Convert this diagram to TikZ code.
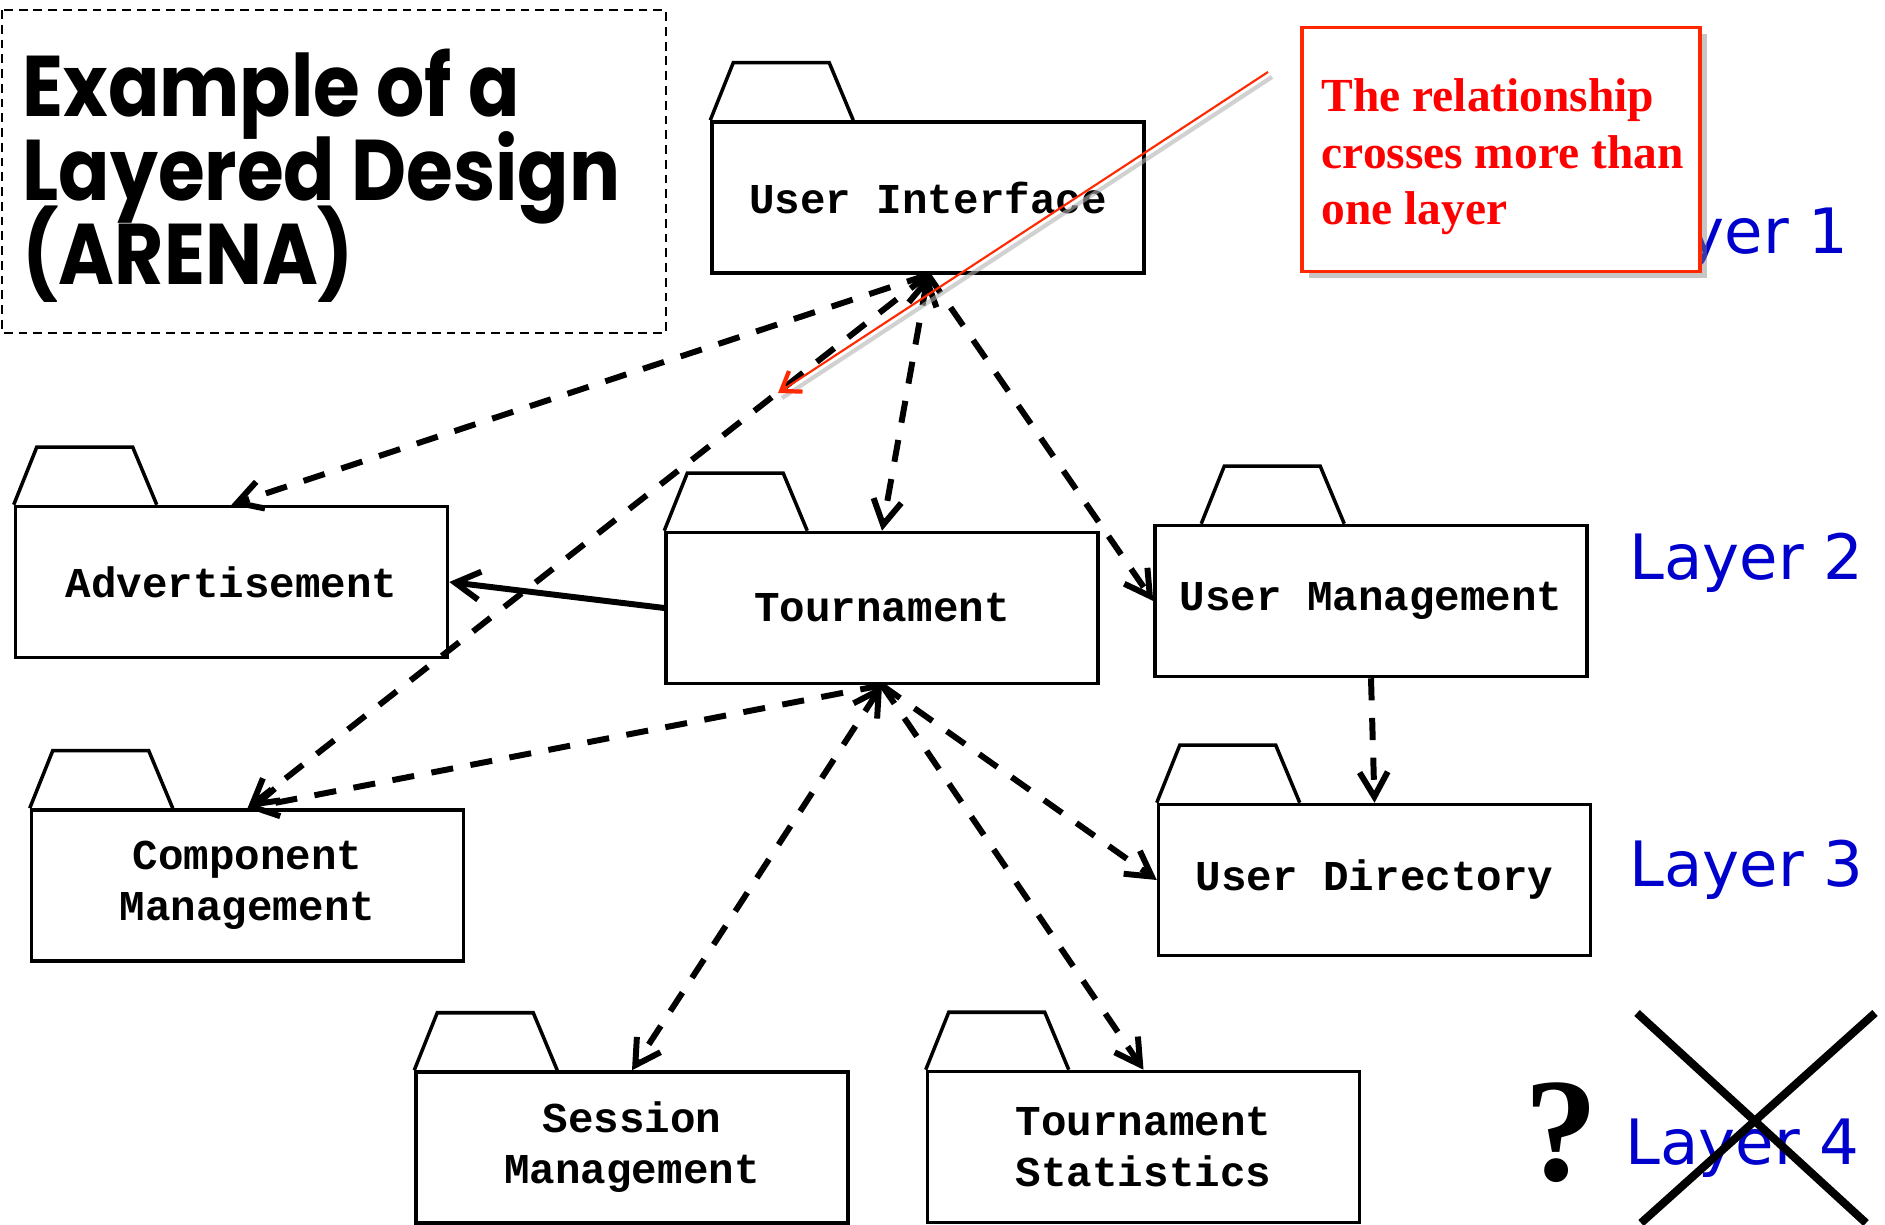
\documentclass[tikz,border=0pt]{standalone}
\usepackage{fontspec}
\usetikzlibrary{calc,arrows.meta,shadows}
\newfontfamily\pkgfont{Liberation Mono}
\newfontfamily\titlefont{Poppins}[FakeStretch=0.88]
\newfontfamily\notefont{Liberation Serif}
\newfontfamily\layerfont{DejaVu Sans}
\definecolor{layerblue}{RGB}{0,0,204}
\definecolor{notered}{RGB}{255,40,0}
\def\tightlines{\lineskiplimit=-30pt\relax}
\tikzset{
	>={Straight Barb[length=7pt,width=8pt]},
	pkg/.style={draw, line width=1pt, minimum width=4.32cm, minimum height=1.51cm, inner sep=0pt, align=center, font=\pkgfont\bfseries\fontsize{12.1}{14.5}\selectfont},
	pkgline/.style={line width=1pt},
	dep/.style={line width=1.7pt, dash pattern=on 6.3pt off 5pt, ->},
	layer/.style={anchor=base west, inner sep=0pt, text=layerblue, font=\layerfont\fontsize{17.8}{20}\selectfont}
}
\def\pkgtab[#1](#2){\draw[pkgline] ($(#2.north west)+(#1,0)$) -- ++(0.23,0.575) -- ++(0.96,0) -- ++(0.24,-0.575);}

\begin{document}
\begin{tikzpicture}
			%%%%% START %%%%%
			\useasboundingbox (0,0) rectangle (18.85,-12.25);
			
			\draw[line width=0.5pt, dash pattern=on 2.5pt off 1.7pt] (0.02,-0.10) rectangle (6.66,-3.33);
			\node[anchor=north west, inner sep=0pt, align=left, font=\titlefont\bfseries\fontsize{24.5}{23.9}\selectfont\tightlines] (title) at (0.22,-0.48) {Example of a\\Layered Design\\(ARENA)};
			
			\node[layer] (l1) at (16.14,-2.54) {Layer 1};
			\node[layer] (l2) at (16.29,-5.80) {Layer 2};
			\node[layer] (l3) at (16.29,-8.87) {Layer 3};
			\node[layer] (l4) at (16.25,-11.64) {Layer 4};
			
			\node[pkg] (ui) at (9.28,-1.975) {User Interface};
			\pkgtab[0](ui);
			
			\node[pkg] (ad) at (2.315,-5.82) {Advertisement};
			\pkgtab[0](ad);
			
			\node[pkg] (tour) at (8.82,-6.08) {Tournament};
			\pkgtab[0](tour);
			
			\node[pkg] (um) at (13.71,-6.01) {User Management};
			\pkgtab[0.48](um);
			
			\node[pkg] (cm) at (2.475,-8.855) {Component\\Management};
			\pkgtab[0](cm);
			
			\node[pkg] (ud) at (13.745,-8.80) {User Directory};
			\pkgtab[0](ud);
			
			\node[pkg] (sm) at (6.32,-11.475) {Session\\Management};
			\pkgtab[0](sm);
			
			\node[pkg] (ts) at (11.435,-11.47) {Tournament\\Statistics};
			\pkgtab[0](ts);
			
			\draw[dep] (ui.south) -- (ad.north);
			\draw[dep] (ui.south) -- (cm.north);
			\draw[dep, <->] (ui.south) -- (tour.north);
			\draw[dep] (ui.south) -- (um.west);
			\draw[dep] (tour.south) -- (cm.north);
			\draw[dep, <->] (tour.south) -- (sm.north);
			\draw[dep] (tour.south) -- (ts.north);
			\draw[dep] (tour.south) -- (ud.west);
			\draw[dep] (um.south) -- (ud.north);
			\draw[line width=1.7pt, ->] (tour.west) -- (ad.east);
			
			\node[font=\notefont\bfseries\fontsize{42}{42}\selectfont, inner sep=0pt] (qm) at (15.61,-11.33) {?};
			\draw[line width=2.3pt] (16.37,-10.13) -- (18.66,-12.23);
			\draw[line width=2.3pt] (18.75,-10.13) -- (16.41,-12.23);
			
			\node[draw=notered, line width=1pt, fill=white, drop shadow={shadow xshift=0.07cm, shadow yshift=-0.07cm, opacity=0.45}, minimum width=3.98cm, minimum height=2.44cm] (note) at (15.01,-1.495) {};
			\node[anchor=base west, inner sep=0pt, align=left, text=red, font=\notefont\bfseries\fontsize{13.5}{16.1}\selectfont] (notetext) at (13.21,-2.25) {The relationship\\crosses more than\\one layer};
			
			\coordinate (from) at (12.68,-0.72);
			\coordinate (to) at (7.78,-3.93);
			\draw[black!30, line width=1.2pt, opacity=0.6] ($(from)+(0.04,-0.05)$) -- ($(to)+(0.04,-0.05)$);
			\draw[notered, line width=0.6pt, -{Straight Barb[length=5pt,width=7pt,line width=1.2pt]}] (from) -- (to);
			
			%%%%% END %%%%%
		\end{tikzpicture}
\end{document}
